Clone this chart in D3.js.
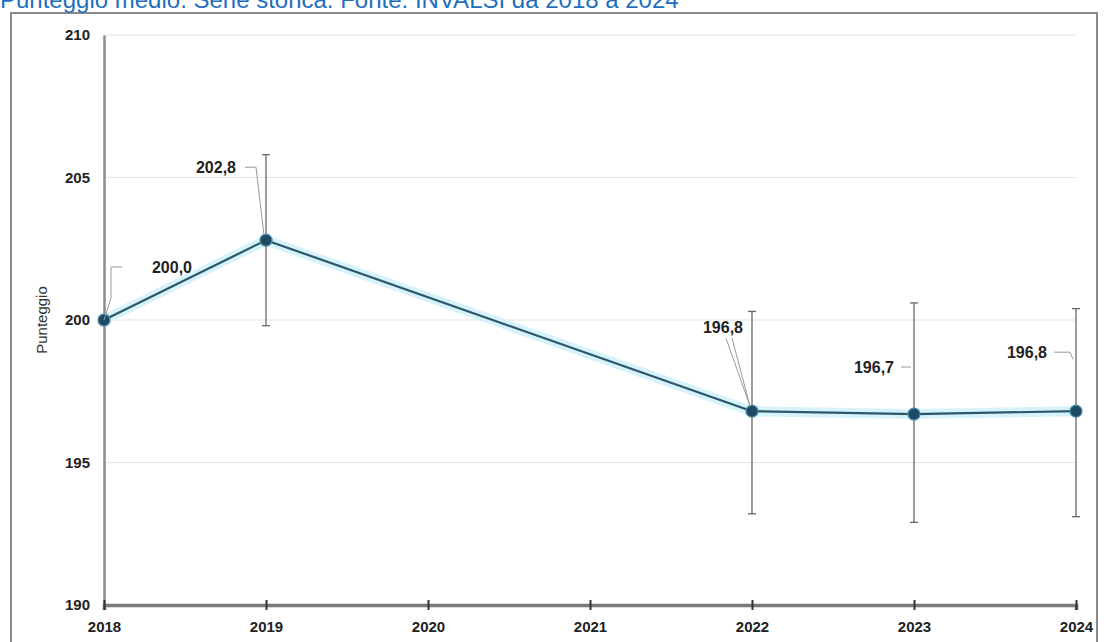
<!DOCTYPE html>
<html>
<head>
<meta charset="utf-8">
<script src="https://cdn.jsdelivr.net/npm/d3@7"></script>
<style>
  html, body { margin: 0; padding: 0; background: #fff; }
  svg { display: block; font-family: "Liberation Sans", Arial, sans-serif; }
</style>
</head>
<body>
<svg id="chart" width="1107" height="642"></svg>
<script>
// ---- Data ----
const years = [2018, 2019, 2022, 2023, 2024];
const scores = [200.0, 202.8, 196.8, 196.7, 196.8];
const errLow = [null, 199.8, 193.2, 192.9, 193.1];
const errHigh = [null, 205.8, 200.3, 200.6, 200.4];
const valueLabels = ["200,0", "202,8", "196,8", "196,7", "196,8"];
const xTicks = [2018, 2019, 2020, 2021, 2022, 2023, 2024];
const yTicks = [190, 195, 200, 205, 210];
const titleText = "Punteggio medio. Serie storica. Fonte: INVALSI da 2018 a 2024";
const yTitle = "Punteggio";

// ---- Label layout (offsets from point, pixels) ----
const labelLayout = [
  { dx: 68, dy: -53, leader: [[0, 0], [7, -22], [7, -53], [18, -53]] },
  { dx: -50, dy: -73, leader: [[-2, -5], [-10, -73], [-21, -73]] },
  { dx: -29, dy: -84, leader: [[-2, -5], [-26, -73]], leader2: [[-2, -5], [-20, -73]] },
  { dx: -40, dy: -47, leader: [[-3, -47], [-13, -47]] },
  { dx: -49, dy: -59, leader: [[-3, -52], [-6, -59], [-22, -59]] }
];

const svg = d3.select("#chart");
const W = 1107, H = 642;
const margin = { left: 104, right: 31, top: 35, bottom: 37 };

const x = d3.scaleLinear().domain([2018, 2024]).range([margin.left, W - margin.right]);
const y = d3.scaleLinear().domain([190, 210]).range([H - margin.bottom, margin.top]);

// Outer frame
svg.append("rect")
  .attr("x", 11).attr("y", 13).attr("width", 1086).attr("height", 640)
  .attr("fill", "none").attr("stroke", "#8a8a8a").attr("stroke-width", 2);

// Title
svg.append("text")
  .attr("x", 0).attr("y", 8)
  .attr("fill", "#1f6fbf")
  .attr("font-size", 24)
  .text(titleText);

// Gridlines
svg.append("g")
  .selectAll("line")
  .data(yTicks.filter(t => t !== 190))
  .join("line")
  .attr("x1", x(2018)).attr("x2", x(2024))
  .attr("y1", d => y(d)).attr("y2", d => y(d))
  .attr("stroke", "#e4e4e4").attr("stroke-width", 1.2);

// Y axis
const yAxis = svg.append("g")
  .attr("transform", `translate(${x(2018)},0)`)
  .call(d3.axisLeft(y).tickValues(yTicks).tickSize(0).tickPadding(14).tickFormat(d3.format("d")));
yAxis.select(".domain").attr("stroke", "#8c8c8c").attr("stroke-width", 2.5);
yAxis.selectAll("text")
  .attr("font-size", 15).attr("font-weight", "bold").attr("fill", "#222")
  .attr("font-family", "'Liberation Sans', Arial, sans-serif");

// X axis
const xAxis = svg.append("g")
  .attr("transform", `translate(0,${y(190)})`)
  .call(d3.axisBottom(x).tickValues(xTicks).tickSize(5).tickPadding(11).tickFormat(d3.format("d")));
xAxis.select(".domain").attr("stroke", "#7a7a7a").attr("stroke-width", 3.5);
xAxis.selectAll(".tick line").attr("stroke", "#333").attr("stroke-width", 2)
  .attr("y1", -5).attr("y2", 5);
xAxis.selectAll("text")
  .attr("font-size", 15).attr("font-weight", "bold").attr("fill", "#222")
  .attr("font-family", "'Liberation Sans', Arial, sans-serif");

// Y axis title
svg.append("text")
  .attr("transform", `translate(47,${y(200)}) rotate(-90)`)
  .attr("text-anchor", "middle")
  .attr("font-size", 15)
  .attr("fill", "#333")
  .text(yTitle);

const pts = years.map((yr, i) => ({ yr, v: scores[i], lo: errLow[i], hi: errHigh[i], lab: valueLabels[i], lay: labelLayout[i] }));

// Error bars
const eb = svg.append("g").selectAll("g").data(pts.filter(d => d.lo !== null)).join("g");
eb.append("line")
  .attr("x1", d => x(d.yr)).attr("x2", d => x(d.yr))
  .attr("y1", d => y(d.hi)).attr("y2", d => y(d.lo))
  .attr("stroke", "#666").attr("stroke-width", 1.3);
eb.append("line")
  .attr("x1", d => x(d.yr) - 4).attr("x2", d => x(d.yr) + 4)
  .attr("y1", d => y(d.hi)).attr("y2", d => y(d.hi))
  .attr("stroke", "#666").attr("stroke-width", 1.3);
eb.append("line")
  .attr("x1", d => x(d.yr) - 4).attr("x2", d => x(d.yr) + 4)
  .attr("y1", d => y(d.lo)).attr("y2", d => y(d.lo))
  .attr("stroke", "#666").attr("stroke-width", 1.3);

// Line with glow
const line = d3.line().x(d => x(d.yr)).y(d => y(d.v));
svg.append("path").datum(pts).attr("d", line)
  .attr("fill", "none").attr("stroke", "#d6f2fa").attr("stroke-width", 10).attr("stroke-linejoin", "round");
svg.append("path").datum(pts).attr("d", line)
  .attr("fill", "none").attr("stroke", "#2c566b").attr("stroke-width", 2.2).attr("stroke-linejoin", "round");

// Markers
svg.append("g").selectAll("circle").data(pts).join("circle")
  .attr("cx", d => x(d.yr)).attr("cy", d => y(d.v)).attr("r", 6)
  .attr("fill", "#1e4a63").attr("stroke", "#4e8aa6").attr("stroke-width", 1.2);

// Leaders
const lg = svg.append("g");
pts.forEach(d => {
  const px = x(d.yr), py = y(d.v);
  [d.lay.leader, d.lay.leader2].filter(Boolean).forEach(L => {
    lg.append("polyline")
      .attr("points", L.map(p => `${px + p[0]},${py + p[1]}`).join(" "))
      .attr("fill", "none").attr("stroke", "#999").attr("stroke-width", 1);
  });
});

// Value labels
svg.append("g").selectAll("text").data(pts).join("text")
  .attr("x", d => x(d.yr) + d.lay.dx)
  .attr("y", d => y(d.v) + d.lay.dy)
  .attr("text-anchor", "middle")
  .attr("dominant-baseline", "central")
  .attr("font-size", 16).attr("font-weight", "bold").attr("fill", "#222")
  .text(d => d.lab);
</script>
</body>
</html>
